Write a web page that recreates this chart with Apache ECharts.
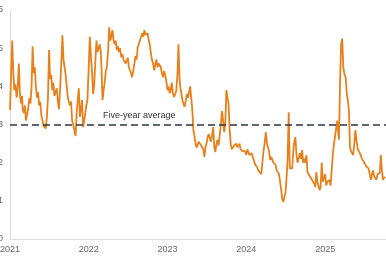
<!DOCTYPE html>
<html><head><meta charset="utf-8">
<script src="https://cdn.jsdelivr.net/npm/echarts@6/dist/echarts.min.js"></script>
<style>html,body{margin:0;padding:0;background:#fff}#c{width:386px;height:260px}</style>
</head><body><div id="c"></div>
<script>
const months = ["2021-01","2021-02","2021-03","2021-04","2021-05","2021-06","2021-07","2021-08","2021-09","2021-10","2021-11","2021-12",
"2022-01","2022-02","2022-03","2022-04","2022-05","2022-06","2022-07","2022-08","2022-09","2022-10","2022-11","2022-12",
"2023-01","2023-02","2023-03","2023-04","2023-05","2023-06","2023-07","2023-08","2023-09","2023-10","2023-11","2023-12",
"2024-01","2024-02","2024-03","2024-04","2024-05","2024-06","2024-07","2024-08","2024-09","2024-10","2024-11","2024-12",
"2025-01","2025-02","2025-03","2025-04","2025-05","2025-06","2025-07","2025-08","2025-09","2025-10"];
const sampleDays = ["01","06","11","16","21","26"];
const values = [
[3.38,4.3,5.2,4.4,3.9,4.05],[3.7,4.0,4.6,3.8,3.55,3.75],[3.4,3.3,3.5,3.1,3.25,3.4],[3.7,3.55,4.0,5.05,4.35,4.5],
[4.0,3.7,3.85,3.5,3.6,3.25],[3.1,2.95,3.0,2.9,3.2,3.7],[4.95,4.2,4.3,3.9,4.1,3.75],[3.8,3.95,3.6,3.4,3.9,4.5],
[5.34,4.7,4.5,4.3,4.0,3.7],[3.75,3.5,3.6,3.1,3.0,2.95],[2.7,3.3,3.64,3.95,3.2,3.4],[3.64,2.93,3.1,3.3,3.5,3.65],
[4.5,5.3,4.8,4.4,3.8,4.0],[4.7,5.2,4.9,4.86,5.1,4.9],[4.5,3.64,3.9,4.1,4.4,4.5],[4.95,5.55,5.2,5.3,5.47,5.2],
[5.1,5.2,4.95,5.05,4.9,5.0],[4.76,4.85,4.7,4.75,4.6,4.65],[4.75,4.5,4.55,4.35,4.24,4.4],[4.6,4.8,4.7,5.03,5.1,5.2],
[5.3,5.39,5.3,5.47,5.35,5.3],[5.39,5.2,5.1,4.86,4.7,4.6],[4.42,4.6,4.7,4.5,4.6,4.55],[4.5,4.35,4.24,4.4,4.3,4.16],
[3.9,4.0,3.82,3.9,4.1,3.82],[3.72,3.8,3.9,4.3,5.1,4.2],[4.0,3.82,3.64,3.55,3.46,3.6],[3.8,3.7,3.75,4.0,3.7,3.4],
[2.85,2.7,2.5,2.4,2.45,2.55],[2.6,2.45,2.5,2.35,2.15,2.4],[2.5,2.67,2.75,2.8,2.55,2.7],[2.93,2.4,2.28,2.5,2.6,2.45],
[2.5,3.03,3.35,3.1,2.8,3.0],[3.9,3.7,3.56,2.9,2.5,2.35],[2.33,2.45,2.4,2.5,2.4,2.45],[2.5,2.35,2.4,2.3,2.35,2.3],
[2.2,2.35,2.3,2.2,2.15,2.25],[2.25,2.05,1.95,2.0,1.88,1.8],[1.75,1.85,1.7,2.0,2.3,2.5],[2.8,2.5,2.4,2.3,2.07,2.15],
[2.1,2.0,2.05,1.95,1.8,1.85],[1.7,1.5,1.3,1.05,0.97,1.1],[1.2,1.6,2.1,3.32,1.85,1.9],[1.85,2.3,2.55,2.67,2.2,2.0],
[2.0,2.25,2.1,2.33,2.0,2.1],[2.0,2.2,1.75,1.8,1.65,1.6],[1.55,1.6,1.45,1.36,1.75,1.5],[1.5,1.28,1.35,2.0,1.5,1.6],
[1.7,1.4,1.5,1.45,1.55,1.4],[1.36,2.25,2.5,2.7,2.9,3.1],[2.9,2.6,4.1,5.1,5.25,4.5],[4.3,4.24,3.82,3.64,3.38,2.4],
[2.3,2.25,2.2,2.5,2.85,2.6],[2.35,2.3,2.25,2.2,2.1,2.07],[2.0,2.05,1.9,1.88,1.85,1.8],[1.55,1.7,1.8,1.65,1.7,1.55],
[1.7,1.65,1.73,2.2,1.8,1.55],[1.62,1.6]
];
const averageValue = 3.0;
const averageLabel = "Five-year average";
const yTicks = [0,1,2,3,4,5,6];

const seriesData = [];
months.forEach((m, i) => {
  (values[i] || []).forEach((v, j) => { seriesData.push([m + "-" + sampleDays[j], v]); });
});

const chart = echarts.init(document.getElementById('c'), null, {renderer:'canvas'});
const font = '"Liberation Sans", Arial, sans-serif';
chart.setOption({
  animation: false,
  grid: {left: 10, right: 0, top: 10, bottom: 21, containLabel: false, outerBoundsMode: 'none'},
  xAxis: {
    type: 'time',
    min: '2021-01-01', max: '2025-10-10',
    minInterval: 365*24*3600*1000,
    splitNumber: 5,
    axisLine: {show: true, lineStyle: {color: '#dcdcdc', width: 1}},
    axisTick: {show: false},
    splitLine: {show: false},
    axisLabel: {
      color: '#666', fontSize: 9, fontFamily: font, margin: 6, hideOverlap: false,
      showMinLabel: true,
      formatter: function (v) { const d = new Date(v); return (d.getMonth() === 0 && d.getDate() === 1) ? String(d.getFullYear()) : ''; }
    }
  },
  yAxis: {
    type: 'value', min: yTicks[0], max: yTicks[yTicks.length-1], interval: 1,
    axisLine: {show: true, lineStyle: {color: '#dcdcdc', width: 1}},
    axisTick: {show: false},
    splitLine: {show: false},
    axisLabel: {color: '#666', fontSize: 9, fontFamily: font, margin: 7}
  },
  series: [{
    type: 'line',
    data: seriesData,
    showSymbol: false,
    lineStyle: {color: '#E8801C', width: 1.8},
    itemStyle: {color: '#E8801C'},
    markLine: {
      silent: true,
      symbol: ['none','none'],
      lineStyle: {color: '#2f3542', type: [7,4], width: 1.5},
      label: {show: true, position: 'insideStartTop', distance: [93, 4], formatter: averageLabel,
        color: '#333', fontSize: 9, fontFamily: font},
      data: [{yAxis: averageValue}]
    }
  }]
});
</script></body></html>
